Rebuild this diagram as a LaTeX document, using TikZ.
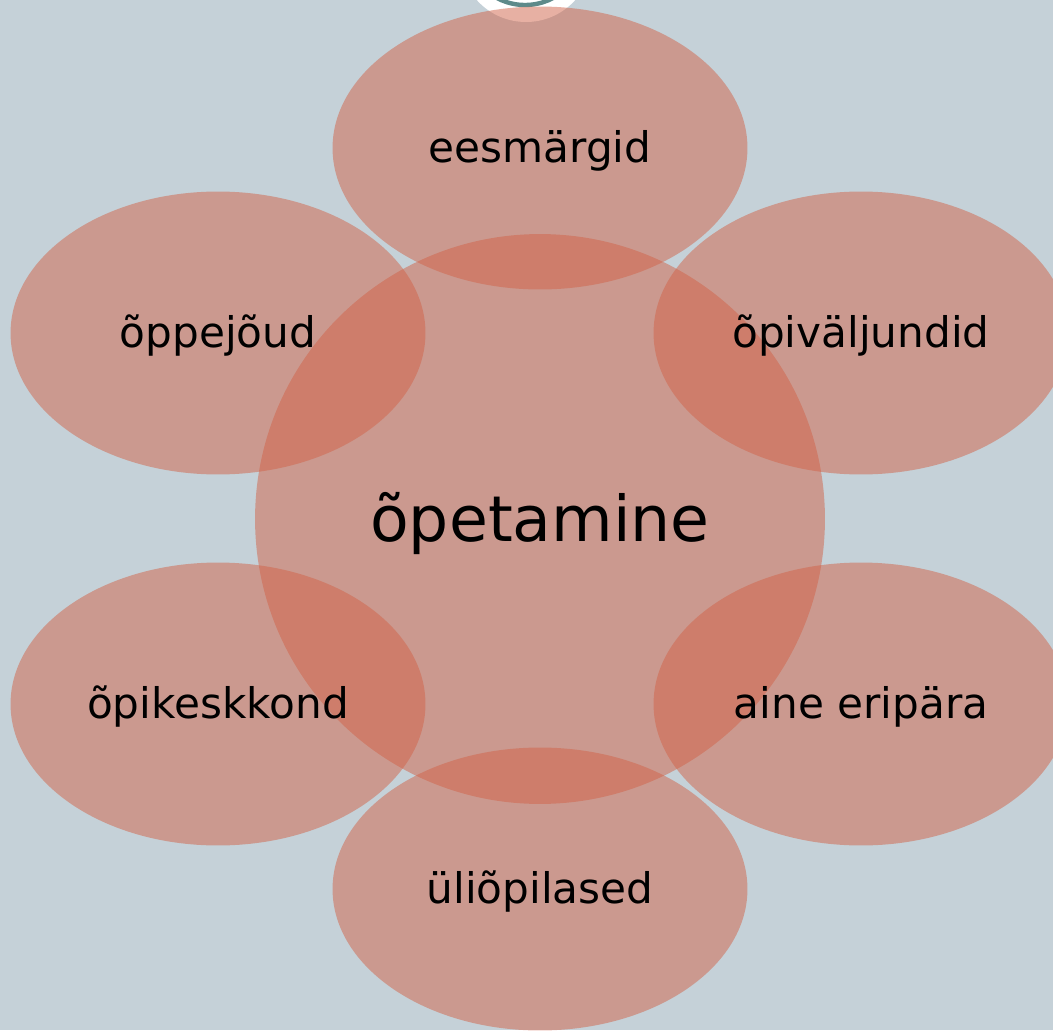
\documentclass[tikz,border=0pt]{standalone}
\usepackage{fontspec}
\setmainfont{DejaVu Sans}
\usetikzlibrary{shapes.geometric}
\definecolor{bgblue}{RGB}{197,209,216}
\definecolor{petal}{RGB}{209,99,72}
\definecolor{ringgray}{RGB}{94,138,138}
\tikzset{
  petalnode/.style={ellipse, fill=petal, fill opacity=0.5, text opacity=1,
    minimum width=8.3cm, minimum height=5.66cm, inner sep=0pt,
    text height=21pt, text depth=4.6pt,
    font=\fontsize{24}{28}\selectfont},
  hubnode/.style={circle, fill=petal, fill opacity=0.5, text opacity=1,
    minimum size=11.4cm, inner sep=0pt,
    text height=33pt, text depth=7.3pt,
    font=\fontsize{36}{42}\selectfont}
}
\begin{document}
\begin{tikzpicture}[x=0.02cm, y=-0.02cm]
  \useasboundingbox (0,0) rectangle (1053,1030);
  \fill [bgblue] (0,0) rectangle (1053,1030);
  % knob at the top edge
  \fill [white] (526,-44) circle [radius=66];
  \draw [ringgray, line width=2.5pt] (525,-55) circle [radius=60];
  % hub
  \node [hubnode] (hub) at (540,519) {õpetamine};
  % petals round the hub
  \node [petalnode] (goals) at (540,148) {eesmärgid};
  \node [petalnode] (outcomes) at (861,333) {õpiväljundid};
  \node [petalnode] (subject) at (861,704) {aine eripära};
  \node [petalnode] (students) at (540,889) {üliõpilased};
  \node [petalnode] (environment) at (218,704) {õpikeskkond};
  \node [petalnode] (teachers) at (218,333) {õppejõud};
\end{tikzpicture}
\end{document}
